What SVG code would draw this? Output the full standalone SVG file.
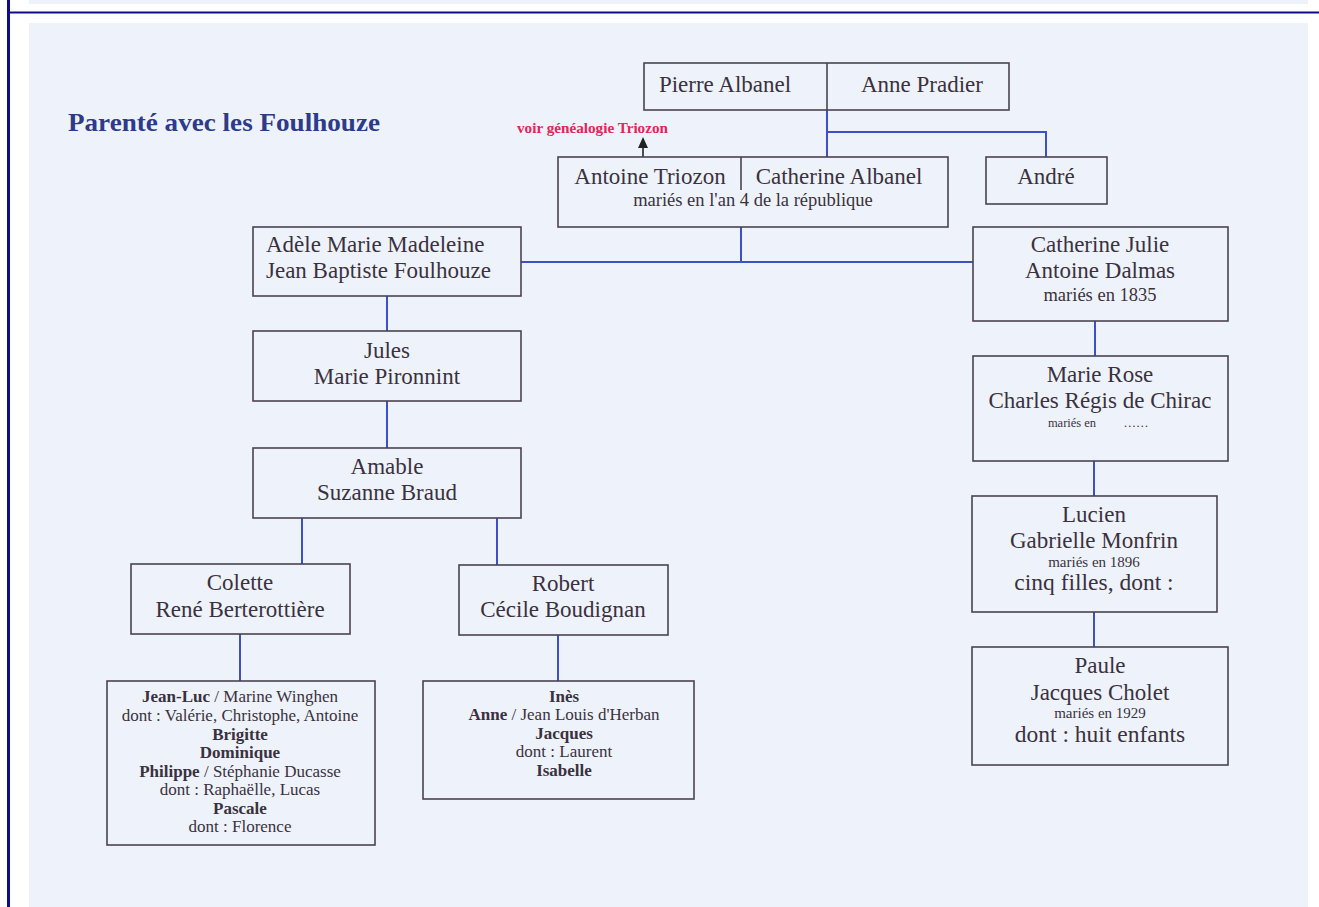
<svg xmlns="http://www.w3.org/2000/svg" width="1319" height="907" viewBox="0 0 1319 907">
<defs>
<style>
text{font-family:"Liberation Serif","Times New Roman",serif;fill:#3a3140;text-anchor:middle}
.n{font-size:23px}
.m{font-size:18.5px}
.t{font-size:12.5px}
.t2{font-size:15px}
.c{font-size:17px}
.big{font-size:23.5px}
.bd{font-weight:bold}
.box{fill:none;stroke:#4a4350;stroke-width:1.6}
.div{stroke:#4a4350;stroke-width:1.6}
.con{fill:none;stroke:#3d50c6;stroke-width:2}
</style>
</defs>
<rect x="0" y="0" width="1319" height="907" fill="#ffffff"/>
<rect x="29" y="0" width="1279" height="4" fill="#eef3fb"/>
<rect x="29" y="23" width="1279" height="884" fill="#eef3fb"/>
<line x1="8.5" y1="0" x2="8.5" y2="907" stroke="#0d0d8a" stroke-width="3"/>
<line x1="8" y1="12.5" x2="1319" y2="12.5" stroke="#0d0d8a" stroke-width="2"/>

<text x="68" y="131" style="font-size:26px;font-weight:bold;fill:#2e3a8a;text-anchor:start" textLength="312" lengthAdjust="spacingAndGlyphs">Parenté avec les Foulhouze</text>
<text x="517" y="133" class="bd" style="font-size:14px;fill:#e5245a;text-anchor:start" textLength="151" lengthAdjust="spacingAndGlyphs">voir généalogie Triozon</text>

<g id="connectors">
<path class="con" d="M827,110 V157 M827,132 H1046 V157"/>
<path class="con" d="M741,227 V262 M521,262 H973"/>
<path class="con" d="M387,296 V331 M387,401 V448"/>
<path class="con" d="M302,518 V564 M497,518 V565"/>
<path class="con" d="M240,634 V681 M558,635 V681"/>
<path class="con" d="M1095,321 V356 M1094,461 V496 M1094,612 V647"/>
<line x1="643" y1="157" x2="643" y2="146" stroke="#222" stroke-width="1.6"/>
<polygon points="643,137 648,148 638,148" fill="#222"/>
</g>

<g id="pierre-anne">
<rect class="box" x="644" y="63" width="365" height="47"/>
<line class="div" x1="827" y1="63" x2="827" y2="110"/>
<text class="n" x="725" y="92">Pierre Albanel</text>
<text class="n" x="922" y="92">Anne Pradier</text>
</g>

<g id="triozon-albanel">
<rect class="box" x="558" y="157" width="390" height="70"/>
<line class="div" x1="741" y1="157" x2="741" y2="190"/>
<text class="n" x="650" y="184">Antoine Triozon</text>
<text class="n" x="839" y="184">Catherine Albanel</text>
<text class="m" x="753" y="206">mariés en l'an 4 de la république</text>
</g>

<g id="andre">
<rect class="box" x="986" y="157" width="121" height="47"/>
<text class="n" x="1046" y="184">André</text>
</g>

<g id="adele">
<rect class="box" x="253" y="227" width="268" height="69"/>
<text class="n" x="266" y="252" style="text-anchor:start">Adèle Marie Madeleine</text>
<text class="n" x="266" y="278" style="text-anchor:start">Jean Baptiste Foulhouze</text>
</g>

<g id="jules">
<rect class="box" x="253" y="331" width="268" height="70"/>
<text class="n" x="387" y="358">Jules</text>
<text class="n" x="387" y="384">Marie Pironnint</text>
</g>

<g id="amable">
<rect class="box" x="253" y="448" width="268" height="70"/>
<text class="n" x="387" y="474">Amable</text>
<text class="n" x="387" y="500">Suzanne Braud</text>
</g>

<g id="colette">
<rect class="box" x="131" y="564" width="219" height="70"/>
<text class="n" x="240" y="590">Colette</text>
<text class="n" x="240" y="617">René Berterottière</text>
</g>

<g id="robert">
<rect class="box" x="459" y="565" width="209" height="70"/>
<text class="n" x="563" y="591">Robert</text>
<text class="n" x="563" y="617">Cécile Boudignan</text>
</g>

<g id="colette-children">
<rect class="box" x="107" y="681" width="268" height="164"/>
<text class="c" x="240" y="702"><tspan class="bd">Jean-Luc</tspan> / Marine Winghen</text>
<text class="c" x="240" y="721">dont : Valérie, Christophe, Antoine</text>
<text class="c bd" x="240" y="740">Brigitte</text>
<text class="c bd" x="240" y="758">Dominique</text>
<text class="c" x="240" y="777"><tspan class="bd">Philippe</tspan> / Stéphanie Ducasse</text>
<text class="c" x="240" y="795">dont : Raphaëlle, Lucas</text>
<text class="c bd" x="240" y="814">Pascale</text>
<text class="c" x="240" y="832">dont : Florence</text>
</g>

<g id="robert-children">
<rect class="box" x="423" y="681" width="271" height="118"/>
<text class="c bd" x="564" y="702">Inès</text>
<text class="c" x="564" y="720"><tspan class="bd">Anne</tspan> / Jean Louis d'Herban</text>
<text class="c bd" x="564" y="739">Jacques</text>
<text class="c" x="564" y="757">dont : Laurent</text>
<text class="c bd" x="564" y="776">Isabelle</text>
</g>

<g id="catherine-julie">
<rect class="box" x="973" y="227" width="255" height="94"/>
<text class="n" x="1100" y="252">Catherine Julie</text>
<text class="n" x="1100" y="278">Antoine Dalmas</text>
<text class="m" x="1100" y="301">mariés en 1835</text>
</g>

<g id="marie-rose">
<rect class="box" x="973" y="356" width="255" height="105"/>
<text class="n" x="1100" y="382">Marie Rose</text>
<text class="n" x="1100" y="408">Charles Régis de Chirac</text>
<text class="t" x="1072" y="427">mariés en</text>
<text class="t" x="1136" y="427">……</text>
</g>

<g id="lucien">
<rect class="box" x="972" y="496" width="245" height="116"/>
<text class="n" x="1094" y="522">Lucien</text>
<text class="n" x="1094" y="548">Gabrielle Monfrin</text>
<text class="t2" x="1094" y="567">mariés en 1896</text>
<text class="big" x="1094" y="590">cinq filles, dont :</text>
</g>

<g id="paule">
<rect class="box" x="972" y="647" width="256" height="118"/>
<text class="n" x="1100" y="673">Paule</text>
<text class="n" x="1100" y="700">Jacques Cholet</text>
<text class="t2" x="1100" y="718">mariés en 1929</text>
<text class="big" x="1100" y="742">dont : huit enfants</text>
</g>
</svg>
